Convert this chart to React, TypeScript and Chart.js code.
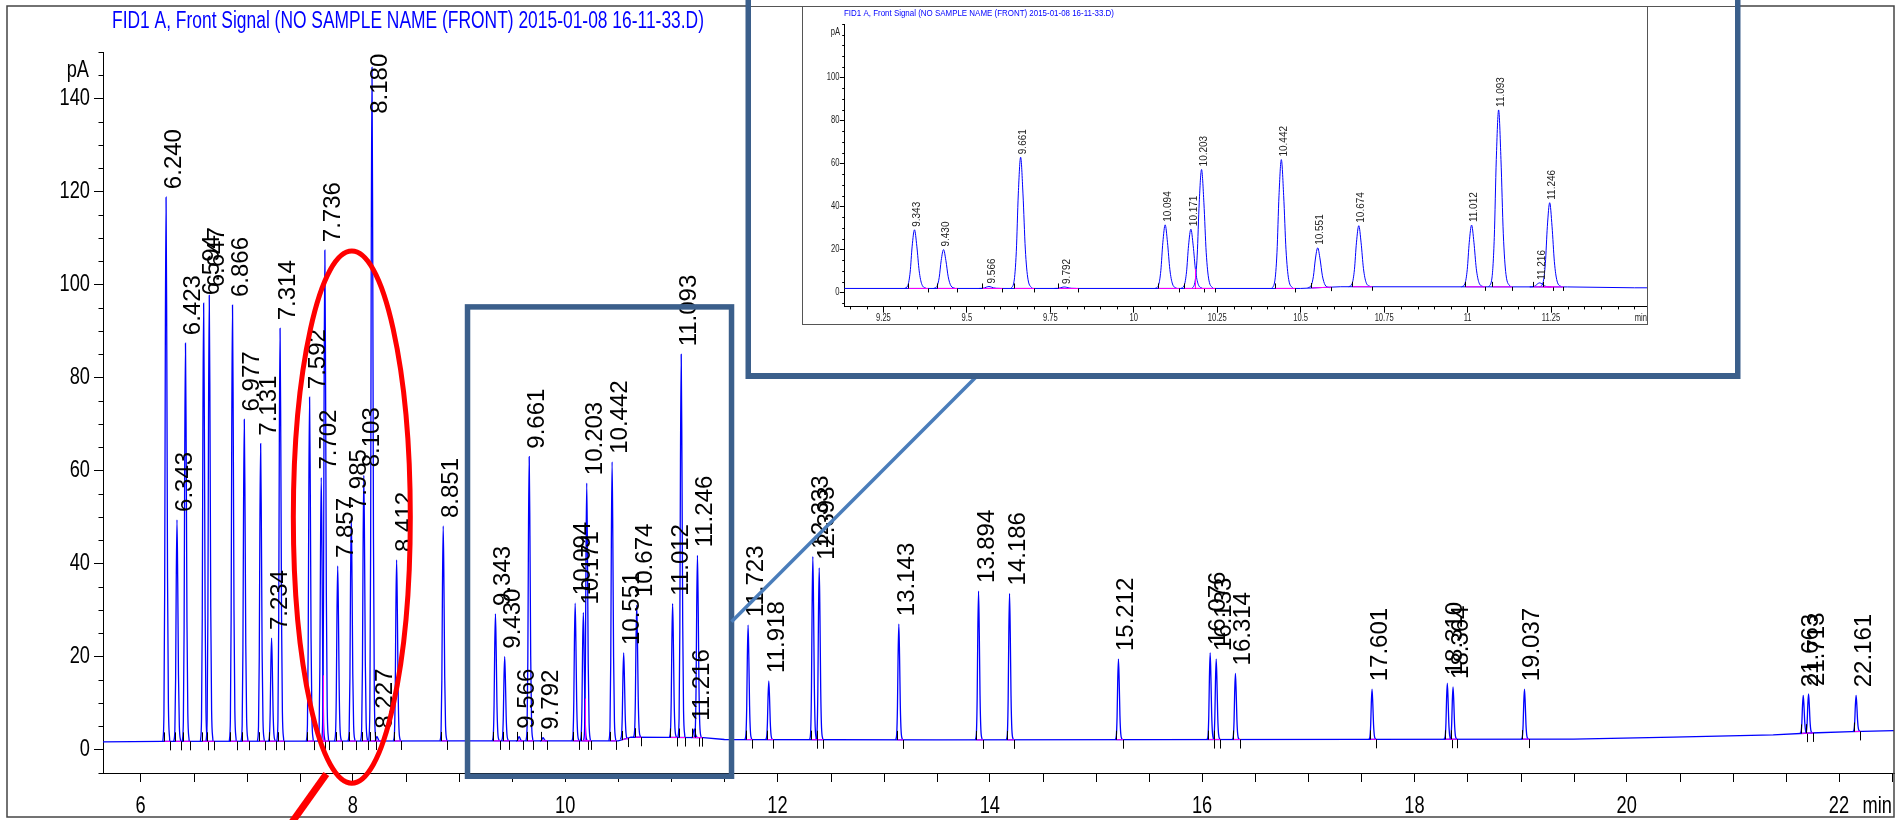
import React, { useEffect, useRef } from 'react';
import { Chart, registerables } from 'chart.js';
Chart.register(...registerables);

// ---------- text ----------
const TITLE = 'FID1 A, Front Signal (NO SAMPLE NAME (FRONT) 2015-01-08 16-11-33.D)';
const Y_UNIT = 'pA';
const X_UNIT = 'min';

// ---------- peaks (retention time in min, apex height in pA) ----------
const PEAK_TIMES = [
  6.240, 6.343, 6.423, 6.594, 6.647, 6.866, 6.977, 7.131, 7.234, 7.314,
  7.592, 7.702, 7.736, 7.857, 7.985, 8.103, 8.180, 8.227, 8.412, 8.851,
  9.343, 9.430, 9.566, 9.661, 9.792, 10.094, 10.171, 10.203, 10.442, 10.551,
  10.674, 11.012, 11.093, 11.216, 11.246, 11.723, 11.918, 12.333, 12.393, 13.143,
  13.894, 14.186, 15.212, 16.076, 16.133, 16.314, 17.601, 18.310, 18.364, 19.037,
  21.663, 21.713, 22.161,
];
const PEAK_HEIGHTS = [
  118.8, 49.4, 87.4, 96.0, 97.7, 95.6, 71.0, 65.8, 24.0, 90.6,
  75.8, 58.5, 107.4, 39.5, 50.0, 59.0, 146.7, 2.8, 40.8, 48.1,
  29.2, 20.0, 2.8, 63.0, 2.6, 31.5, 29.5, 57.3, 61.9, 20.8,
  31.1, 31.4, 85.0, 4.5, 41.8, 26.8, 14.8, 41.5, 39.1, 27.0,
  34.1, 33.6, 19.5, 20.8, 19.5, 16.4, 13.0, 14.3, 13.5, 13.0,
  11.7, 12.0, 11.7,
];
// label level when it differs from the apex (the 8.180 apex is a narrow spike)
const LABEL_LEVEL: Record<string, number> = { '8.180': 135 };

// valley drop lines (time, top in pA)
const DROP_TIMES = [7.718, 10.184];
const DROP_TOPS = [16, 11];

// ---------- detector baseline ----------
const BASE_T = [5.646, 6.2, 9.0, 10.5, 10.62, 11.3, 11.5, 13.5, 19.5, 20.44, 21.38, 21.73, 22.12, 22.518];
const BASE_V = [1.7, 1.8, 1.9, 1.9, 2.7, 2.6, 2.2, 2.1, 2.3, 2.7, 3.2, 3.6, 3.9, 4.1];

// ---------- shape of one peak (offset from apex in min, fraction of height) ----------
const SHAPE_DT = [-0.03, -0.02, -0.013, -0.007, 0, 0.007, 0.014, 0.022, 0.035];
const SHAPE_FRAC = [0, 0.05, 0.28, 0.72, 1, 0.72, 0.3, 0.07, 0];

// integration marks (offset from apex in min)
const MARK_START_DT = -0.02;
const MARK_END_DT = 0.04;

// ---------- axes ----------
const X_MIN = 5.646, X_MAX = 22.518;
const Y_MIN = -5, Y_MAX = 150;
const X_TICKS = [6, 8, 10, 12, 14, 16, 18, 20, 22];
const X_MINOR_STEP = 0.5;
const Y_TICKS = [0, 20, 40, 60, 80, 100, 120, 140];
const Y_MINOR_STEP = 5;

const IN_X_MIN = 9.133, IN_X_MAX = 11.539;
const IN_Y_MIN = -6.6, IN_Y_MAX = 125;
const IN_X_TICKS = [9.25, 9.5, 9.75, 10, 10.25, 10.5, 10.75, 11, 11.25];
const IN_X_MINOR_STEP = 0.05;
const IN_Y_TICKS = [0, 20, 40, 60, 80, 100];
const IN_Y_MINOR_STEP = 5;

// ---------- annotations (data units of main chart) ----------
const ELLIPSE = { cx: 7.99, cy: 50, rx: 0.551, ry: 57.2 };
const POINTER = { x0: 7.75, y0: -5.2, x1: 7.351, y1: -18.0 };
const ZOOM_BOX = { x0: 9.08, x1: 11.567, y0: -5.7, y1: 95.2 };
const CONNECT_FROM = { x: 11.567, y: 27.5 };

// ---------- style ----------
const BLUE = '#0000ff';
const PINK = '#ff00ff';
const BOX_BLUE = '#3b5f8b';
const LINK_BLUE = '#4a7dba';
const SANS = "'Liberation Sans', Arial, sans-serif";
const NARROW_SCALE = 0.76;

const W = 1899, H = 820;
const INSET = { left: 751, top: 0, width: 984, height: 373 };

function baselineAt(t: number): number {
  for (let i = 0; i < BASE_T.length - 1; i++) {
    if (t <= BASE_T[i + 1]) {
      const f = (t - BASE_T[i]) / (BASE_T[i + 1] - BASE_T[i]);
      return BASE_V[i] + f * (BASE_V[i + 1] - BASE_V[i]);
    }
  }
  return BASE_V[BASE_V.length - 1];
}

function buildDatasets(lw: number) {
  const sets: any[] = [{
    data: BASE_T.map((t, i) => ({ x: t, y: BASE_V[i] })),
    borderColor: BLUE, borderWidth: lw, pointRadius: 0, tension: 0,
  }];
  PEAK_TIMES.forEach((t, k) => {
    const b = baselineAt(t);
    const h = PEAK_HEIGHTS[k];
    sets.push({
      data: SHAPE_DT.map((dt, i) => ({ x: t + dt, y: b + SHAPE_FRAC[i] * (h - b) })),
      borderColor: BLUE, borderWidth: lw, pointRadius: 0, cubicInterpolationMode: 'monotone',
    });
  });
  return sets;
}

function minorValues(min: number, max: number, step: number, skip: number[]) {
  const out: number[] = [];
  const start = Math.ceil(min / step - 1e-9);
  for (let k = start; k * step <= max + 1e-9; k++) {
    const v = +(k * step).toFixed(4);
    if (!skip.some((s) => Math.abs(s - v) < 1e-6)) out.push(v);
  }
  return out;
}

// condensed text (narrow face emulated by horizontal scaling)
function narrowText(ctx: CanvasRenderingContext2D, text: string, x: number, y: number, size: number,
  align: 'left' | 'right' | 'center', color: string, sx = NARROW_SCALE) {
  ctx.save();
  ctx.font = `${size}px ${SANS}`;
  ctx.fillStyle = color;
  ctx.textBaseline = 'middle';
  ctx.textAlign = align;
  ctx.translate(x, y);
  ctx.scale(sx, 1);
  ctx.fillText(text, 0, 0);
  ctx.restore();
}

function fitText(ctx: CanvasRenderingContext2D, text: string, x: number, y: number, size: number, width: number, color: string) {
  ctx.save();
  ctx.font = `${size}px ${SANS}`;
  const w = ctx.measureText(text).width;
  ctx.restore();
  narrowText(ctx, text, x, y, size, 'left', color, width / w);
}

type DecoCfg = {
  labelFont: string; labelColor: string; labelDx: number; labelGap: number;
  markUp: number; markDown: number; minorX: number; minorY: number;
  tickFont: number; tickColor: string; xLabelY: number; yLabelRight: number;
  xStep: number; yStep: number; xMajor: number[]; yMajor: number[];
};

function drawPeakDecor(chart: any, cfg: DecoCfg) {
  const { ctx, scales: { x, y }, chartArea: ca } = chart;
  ctx.save();
  ctx.beginPath();
  ctx.rect(ca.left, ca.top - 200, ca.right - ca.left, ca.bottom - ca.top + 200);
  ctx.clip();
  // integration baselines and marks
  PEAK_TIMES.forEach((t) => {
    const ts = t + MARK_START_DT, te = t + MARK_END_DT;
    const xs = Math.round(x.getPixelForValue(ts)) + 0.5, xe = Math.round(x.getPixelForValue(te)) + 0.5;
    const ys = y.getPixelForValue(baselineAt(ts)), ye = y.getPixelForValue(baselineAt(te));
    ctx.strokeStyle = PINK; ctx.lineWidth = 1;
    ctx.beginPath(); ctx.moveTo(xs, ys); ctx.lineTo(xe, ye); ctx.stroke();
    ctx.strokeStyle = '#000';
    ctx.beginPath(); ctx.moveTo(xs, ys); ctx.lineTo(xs, ys - cfg.markUp); ctx.stroke();
    ctx.beginPath(); ctx.moveTo(xe, ye); ctx.lineTo(xe, ye + cfg.markDown); ctx.stroke();
  });
  DROP_TIMES.forEach((t, i) => {
    const px = Math.round(x.getPixelForValue(t)) + 0.5;
    ctx.strokeStyle = PINK; ctx.lineWidth = 1;
    ctx.beginPath(); ctx.moveTo(px, y.getPixelForValue(baselineAt(t))); ctx.lineTo(px, y.getPixelForValue(DROP_TOPS[i])); ctx.stroke();
  });
  // peak labels
  ctx.font = cfg.labelFont;
  ctx.fillStyle = cfg.labelColor;
  ctx.textAlign = 'left';
  ctx.textBaseline = 'alphabetic';
  PEAK_TIMES.forEach((t, k) => {
    const name = t.toFixed(3);
    const level = LABEL_LEVEL[name] ?? PEAK_HEIGHTS[k];
    const px = x.getPixelForValue(t);
    const py = y.getPixelForValue(level);
    ctx.save();
    ctx.translate(px + cfg.labelDx, py - cfg.labelGap);
    ctx.rotate(-Math.PI / 2);
    ctx.fillText(name, 0, 0);
    ctx.restore();
  });
  ctx.restore();

  // minor ticks
  ctx.save();
  ctx.strokeStyle = '#000'; ctx.lineWidth = 1;
  minorValues(y.min, y.max, cfg.yStep, cfg.yMajor).forEach((v) => {
    const py = Math.round(y.getPixelForValue(v)) + 0.5;
    ctx.beginPath(); ctx.moveTo(ca.left, py); ctx.lineTo(ca.left - cfg.minorY, py); ctx.stroke();
  });
  minorValues(x.min, x.max, cfg.xStep, cfg.xMajor).forEach((v) => {
    const px = Math.round(x.getPixelForValue(v)) + 0.5;
    ctx.beginPath(); ctx.moveTo(px, ca.bottom); ctx.lineTo(px, ca.bottom + cfg.minorX); ctx.stroke();
  });
  ctx.restore();

  // tick labels (condensed face)
  cfg.xMajor.forEach((v) => narrowText(ctx, String(v), x.getPixelForValue(v), cfg.xLabelY, cfg.tickFont, 'center', cfg.tickColor));
  cfg.yMajor.forEach((v) => narrowText(ctx, String(v), cfg.yLabelRight, y.getPixelForValue(v), cfg.tickFont, 'right', cfg.tickColor));
}

const mainDecor = {
  id: 'mainDecor',
  afterDraw(chart: any) {
    const { ctx, scales: { x, y } } = chart;
    drawPeakDecor(chart, {
      labelFont: `24px ${SANS}`, labelColor: '#000', labelDx: 15, labelGap: 8,
      markUp: 9, markDown: 9, minorX: 9, minorY: 4.5,
      tickFont: 24, tickColor: '#000', xLabelY: 806, yLabelRight: 90,
      xStep: X_MINOR_STEP, yStep: Y_MINOR_STEP, xMajor: X_TICKS, yMajor: Y_TICKS,
    });
    ctx.save();
    // frame
    ctx.strokeStyle = '#444'; ctx.lineWidth = 1.5;
    ctx.strokeRect(7, 6, 1887, 811);
    // texts
    fitText(ctx, TITLE, 112, 22, 23, 592, BLUE);
    narrowText(ctx, Y_UNIT, 89, 70, 24, 'right', '#000');
    narrowText(ctx, X_UNIT, 1892, 806, 24, 'right', '#000');

    // red ellipse
    const cx = x.getPixelForValue(ELLIPSE.cx), cy = y.getPixelForValue(ELLIPSE.cy);
    const rx = x.getPixelForValue(ELLIPSE.cx + ELLIPSE.rx) - cx;
    const ry = cy - y.getPixelForValue(ELLIPSE.cy + ELLIPSE.ry);
    ctx.strokeStyle = '#ff0000'; ctx.lineWidth = 5;
    ctx.beginPath(); ctx.ellipse(cx, cy, rx, ry, 0, 0, Math.PI * 2); ctx.stroke();
    ctx.lineWidth = 7;
    ctx.beginPath();
    ctx.moveTo(x.getPixelForValue(POINTER.x0), y.getPixelForValue(POINTER.y0));
    ctx.lineTo(x.getPixelForValue(POINTER.x1), y.getPixelForValue(POINTER.y1));
    ctx.stroke();

    // zoom box
    const bx0 = x.getPixelForValue(ZOOM_BOX.x0), bx1 = x.getPixelForValue(ZOOM_BOX.x1);
    const by0 = y.getPixelForValue(ZOOM_BOX.y1), by1 = y.getPixelForValue(ZOOM_BOX.y0);
    ctx.strokeStyle = BOX_BLUE; ctx.lineWidth = 5.5;
    ctx.strokeRect(bx0, by0, bx1 - bx0, by1 - by0);
    // connector
    ctx.strokeStyle = LINK_BLUE; ctx.lineWidth = 3.5;
    ctx.beginPath();
    ctx.moveTo(x.getPixelForValue(CONNECT_FROM.x), y.getPixelForValue(CONNECT_FROM.y));
    ctx.lineTo(977, INSET.top + INSET.height + 3);
    ctx.stroke();
    // inset border
    ctx.fillStyle = '#fff';
    ctx.fillRect(INSET.left, INSET.top, INSET.width, INSET.height);
    ctx.strokeStyle = BOX_BLUE; ctx.lineWidth = 6;
    ctx.strokeRect(INSET.left - 2.5, -20, INSET.width + 5, INSET.height + 20 + 3);
    ctx.restore();
  },
};

const insetDecor = {
  id: 'insetDecor',
  afterDraw(chart: any) {
    const { ctx } = chart;
    drawPeakDecor(chart, {
      labelFont: `10px ${SANS}`, labelColor: '#222', labelDx: 5.7, labelGap: 3,
      markUp: 5, markDown: 4, minorX: 2.7, minorY: 2.2,
      tickFont: 10, tickColor: '#222', xLabelY: 318, yLabelRight: 88.5,
      xStep: IN_X_MINOR_STEP, yStep: IN_Y_MINOR_STEP, xMajor: IN_X_TICKS, yMajor: IN_Y_TICKS,
    });
    ctx.save();
    ctx.strokeStyle = '#555'; ctx.lineWidth = 1;
    ctx.beginPath(); ctx.moveTo(0, 6.5); ctx.lineTo(INSET.width, 6.5); ctx.stroke();
    ctx.strokeRect(51.5, 6.5, 845, 318);
    ctx.restore();
    fitText(ctx, TITLE, 93, 13, 9.5, 270, BLUE);
    narrowText(ctx, Y_UNIT, 89, 32, 10, 'right', '#222');
    narrowText(ctx, X_UNIT, 896, 318, 10, 'right', '#222');
  },
};

function axisOptions(o: any) {
  return {
    type: 'linear',
    min: o.min, max: o.max,
    afterBuildTicks: (s: any) => { s.ticks = o.ticks.map((v: number) => ({ value: v })); },
    afterFit: o.fit,
    ticks: { display: false, autoSkip: false },
    grid: { display: true, drawOnChartArea: false, drawTicks: true, tickLength: o.tickLength, tickColor: '#000', tickWidth: 1 },
    border: { display: true, color: '#000', width: 1 },
  };
}

export default function App() {
  const mainRef = useRef<HTMLCanvasElement>(null);
  const insetRef = useRef<HTMLCanvasElement>(null);

  useEffect(() => {
    const main = new Chart(mainRef.current as HTMLCanvasElement, {
      type: 'line',
      data: { datasets: buildDatasets(1.3) },
      options: {
        animation: false, responsive: false, maintainAspectRatio: false,
        parsing: false as any, normalized: true,
        layout: { padding: { left: 7, right: 5, top: 52, bottom: 3 } },
        plugins: { legend: { display: false }, tooltip: { enabled: false }, title: { display: false } },
        scales: {
          x: axisOptions({ min: X_MIN, max: X_MAX, ticks: X_TICKS, fit: (s: any) => { s.height = 44; }, tickLength: 9 }),
          y: axisOptions({ min: Y_MIN, max: Y_MAX, ticks: Y_TICKS, fit: (s: any) => { s.width = 96; }, tickLength: 9 }),
        } as any,
      },
      plugins: [mainDecor],
    });
    const inset = new Chart(insetRef.current as HTMLCanvasElement, {
      type: 'line',
      data: { datasets: buildDatasets(1) },
      options: {
        animation: false, responsive: false, maintainAspectRatio: false,
        parsing: false as any, normalized: true,
        layout: { padding: { left: 0, right: 87.5, top: 24, bottom: 6.3 } },
        plugins: { legend: { display: false }, tooltip: { enabled: false }, title: { display: false } },
        scales: {
          x: axisOptions({ min: IN_X_MIN, max: IN_X_MAX, ticks: IN_X_TICKS, fit: (s: any) => { s.height = 60; }, tickLength: 6 }),
          y: axisOptions({ min: IN_Y_MIN, max: IN_Y_MAX, ticks: IN_Y_TICKS, fit: (s: any) => { s.width = 93.4; }, tickLength: 4.6 }),
        } as any,
      },
      plugins: [insetDecor],
    });
    return () => { main.destroy(); inset.destroy(); };
  }, []);

  return (
    <div style={{ position: 'fixed', left: 0, top: 0, width: W, height: H, background: '#fff', overflow: 'hidden' }}>
      <canvas ref={mainRef} width={W} height={H} style={{ position: 'absolute', left: 0, top: 0, display: 'block' }} />
      <canvas ref={insetRef} width={INSET.width} height={INSET.height}
        style={{ position: 'absolute', left: INSET.left, top: INSET.top, display: 'block', background: '#fff' }} />
    </div>
  );
}
